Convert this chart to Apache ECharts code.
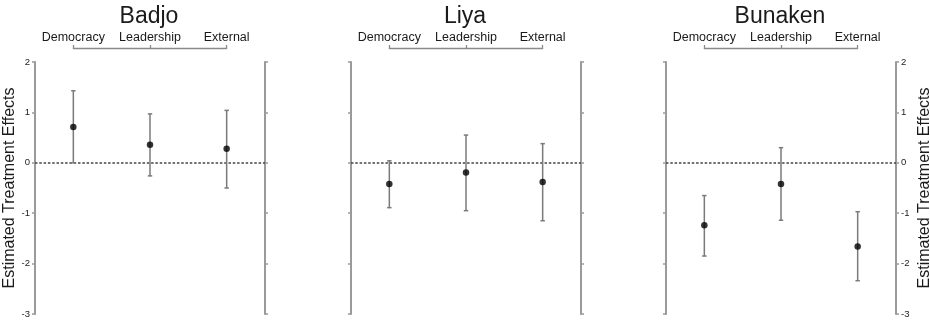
<!DOCTYPE html>
<html>
<head>
<meta charset="utf-8">
<script src="https://cdn.jsdelivr.net/npm/echarts@6/dist/echarts.min.js"></script>
<style>html,body{margin:0;padding:0;background:#fff}#c{width:930px;height:322px}</style>
</head>
<body>
<div id="c"></div>
<script>
// ---- data ----
const sites = ['Badjo', 'Liya', 'Bunaken'];
const categories = ['Democracy', 'Leadership', 'External'];
const badjoEst  = [0.71, 0.36, 0.28];
const badjoLow  = [0.00, -0.26, -0.50];
const badjoHigh = [1.43, 0.97, 1.04];
const liyaEst   = [-0.42, -0.19, -0.38];
const liyaLow   = [-0.89, -0.95, -1.15];
const liyaHigh  = [0.04, 0.55, 0.38];
const bunakenEst  = [-1.24, -0.42, -1.66];
const bunakenLow  = [-1.85, -1.14, -2.34];
const bunakenHigh = [-0.65, 0.30, -0.97];
const yMin = -3, yMax = 2, yInterval = 1;
const yAxisName = 'Estimated Treatment Effects';

// ---- layout ----
const FONT = 'Liberation Sans, Arial, sans-serif';
const panelLeft = [35, 351, 666];
const panelWidth = 230;
const gridTop = 62, gridBottom = 8;
const xMin = 0.5, xMax = 3.5;
const est = [badjoEst, liyaEst, bunakenEst];
const low = [badjoLow, liyaLow, bunakenLow];
const high = [badjoHigh, liyaHigh, bunakenHigh];

const chart = echarts.init(document.getElementById('c'));
const grid = [], xAxis = [], yAxis = [], series = [], title = [];
const axisGray = '#9a9a9a';

for (let i = 0; i < 3; i++) {
  grid.push({left: panelLeft[i], width: panelWidth, top: gridTop, bottom: gridBottom,
    outerBoundsMode: 'none', containLabel: false});
}
for (let i = 0; i < 3; i++) {
  const pxPerUnit = panelWidth / (xMax - xMin);
  grid.push({left: panelLeft[i] + (1 - xMin) * pxPerUnit, width: 2 * pxPerUnit, top: 48, height: 0,
    outerBoundsMode: 'none', containLabel: false});
}
for (let i = 0; i < 3; i++) {
  xAxis.push({type: 'value', gridIndex: i, min: xMin, max: xMax, show: false});
}
for (let i = 0; i < 3; i++) {
  xAxis.push({
    type: 'value', gridIndex: 3 + i, min: 1, max: 3, interval: 1, position: 'top',
    axisLine: {show: true, lineStyle: {color: '#8a8a8a', width: 1.3}},
    axisTick: {show: true, length: 3, lineStyle: {color: '#8a8a8a', width: 1.3}},
    splitLine: {show: false},
    axisLabel: {show: true, margin: 4, color: '#1a1a1a', fontFamily: FONT, fontSize: 12.5,
      formatter: v => categories[Math.round(v) - 1] || ''}
  });
}
for (let i = 0; i < 3; i++) {
  const common = {
    type: 'value', gridIndex: i, min: yMin, max: yMax, interval: yInterval,
    axisLine: {show: true, lineStyle: {color: axisGray, width: 2}},
    axisTick: {show: true, length: 3, lineStyle: {color: axisGray, width: 1.5}},
    splitLine: {show: false},
    nameTextStyle: {fontFamily: FONT, fontSize: 16, color: '#1a1a1a'}
  };
  yAxis.push(Object.assign({}, common, {
    position: 'left',
    axisLabel: {show: i === 0, margin: 5, color: '#222', fontFamily: FONT, fontSize: 9.5},
    name: i === 0 ? yAxisName : '', nameLocation: 'middle', nameRotate: 90, nameGap: 16
  }));
  yAxis.push(Object.assign({}, common, {
    position: 'right',
    axisLabel: {show: i === 2, margin: 5, color: '#222', fontFamily: FONT, fontSize: 9.5},
    name: i === 2 ? yAxisName : '', nameLocation: 'middle', nameRotate: 90, nameGap: 21
  }));
}
for (let i = 0; i < 3; i++) {
  yAxis.push({type: 'value', gridIndex: 3 + i, min: 0, max: 1, show: false});
}

for (let i = 0; i < 3; i++) {
  const errData = categories.map((c, k) => [k + 1, low[i][k], high[i][k]]);
  series.push({
    type: 'custom', xAxisIndex: i, yAxisIndex: 2 * i, z: 3,
    data: errData,
    renderItem: function (params, api) {
      const x = api.value(0);
      const lo = api.coord([x, api.value(1)]);
      const hi = api.coord([x, api.value(2)]);
      const cw = 2.2;
      const style = {stroke: '#7a7a7a', lineWidth: 1.5, fill: null};
      return {type: 'group', children: [
        {type: 'line', shape: {x1: lo[0], y1: lo[1], x2: hi[0], y2: hi[1]}, style: style},
        {type: 'line', shape: {x1: lo[0] - cw, y1: lo[1], x2: lo[0] + cw, y2: lo[1]}, style: style},
        {type: 'line', shape: {x1: hi[0] - cw, y1: hi[1], x2: hi[0] + cw, y2: hi[1]}, style: style}
      ]};
    }
  });
  series.push({
    type: 'scatter', xAxisIndex: i, yAxisIndex: 2 * i, z: 4,
    symbol: 'circle', symbolSize: 6.5,
    itemStyle: {color: '#000'},
    data: est[i].map((v, k) => [k + 1, v]),
    markLine: {
      silent: true, symbol: 'none', z: 1,
      label: {show: false},
      lineStyle: {color: '#444', type: [2.5, 1.8], width: 1.5},
      data: [{yAxis: 0}]
    }
  });
  title.push({
    text: sites[i], left: panelLeft[i] + panelWidth / 2 - 1, top: 5, padding: 0,
    textAlign: 'center',
    textStyle: {fontFamily: FONT, fontSize: 23, fontWeight: 'normal', color: '#1a1a1a'}
  });
}

chart.setOption({animation: false, title, grid, xAxis, yAxis, series});
</script>
</body>
</html>
